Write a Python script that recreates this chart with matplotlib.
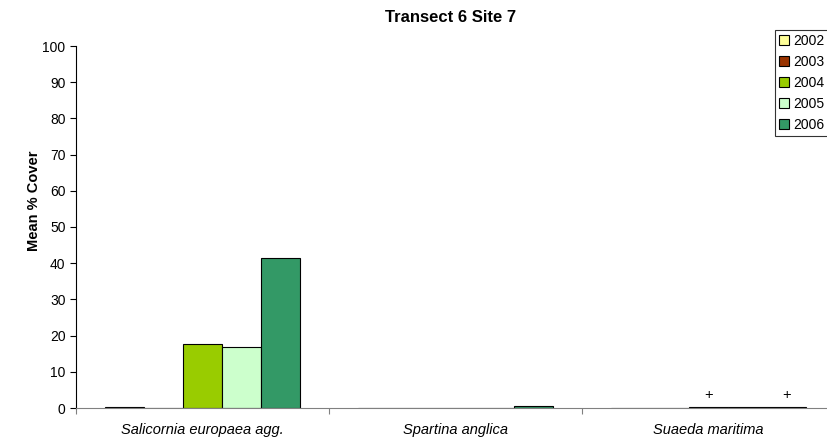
import numpy as np
import matplotlib.pyplot as plt

species = ['Salicornia europaea agg.', 'Spartina anglica', 'Suaeda maritima']
years = ['2002', '2003', '2004', '2005', '2006']
colors = ['#FFFF99', '#993300', '#99CC00', '#CCFFCC', '#339966']

cover = {
    '2002': [0.3, 0.0, 0.0],
    '2003': [0.0, 0.0, 0.0],
    '2004': [17.6, 0.0, 0.2],
    '2005': [16.9, 0.0, 0.3],
    '2006': [41.3, 0.5, 0.2],
}
# years flagged with "+" (trace cover) for each species
trace = {'2004': [False, False, True], '2006': [False, False, True]}

plt.rcParams['font.family'] = 'Liberation Sans'
fig = plt.figure(figsize=(8.28, 4.46), dpi=100)
ax = fig.add_axes([76 / 828, 38 / 446, 759 / 828, 362 / 446])

n = len(years)
bw = 1 / (n + 1.5)
x = np.arange(len(species))
for i, yr in enumerate(years):
    pos = x + 0.75 * bw + (i + 0.5) * bw
    ax.bar(pos, cover[yr], width=bw, color=colors[i], edgecolor='black',
           linewidth=0.8, label=yr, align='center')
    if yr in trace:
        for p, v, t in zip(pos, cover[yr], trace[yr]):
            if t:
                ax.text(p, v + 1.5, '+', ha='center', va='bottom', fontsize=10.5)

ax.set_xlim(0, 3)
ax.set_ylim(0, 100)
ax.set_yticks(range(0, 101, 10))
ax.set_xticks([0, 1, 2, 3], minor=False)
ax.set_xticklabels([])
ax.set_xticks(x + 0.5, minor=True)
ax.set_xticklabels(species, minor=True, style='italic', fontsize=10.5)
ax.tick_params(axis='x', which='minor', length=0, pad=11)
ax.tick_params(axis='x', which='major', length=4, direction='out', color='#808080')
ax.tick_params(axis='y', labelsize=10, length=4, direction='out')
ax.spines['top'].set_visible(False)
ax.spines['right'].set_visible(False)
ax.spines['bottom'].set_color('#808080')
ax.set_ylabel('Mean % Cover', fontsize=10.5, fontweight='bold')
ax.yaxis.set_label_coords(-0.046, 0.572)
fig.text(451 / 828, 0.96, 'Transect 6 Site 7', ha='center', va='center',
         fontsize=12, fontweight='bold')

leg = fig.legend(loc='upper left', bbox_to_anchor=(775 / 828, 1 - 30 / 446), fontsize=10,
                 handlelength=0.7, handleheight=0.7, handletextpad=0.3,
                 borderpad=0.3, labelspacing=0.5, frameon=True, fancybox=False,
                 borderaxespad=0)
leg.get_frame().set_edgecolor('black')
leg.get_frame().set_linewidth(0.8)

fig.savefig('out.png', dpi=100)
